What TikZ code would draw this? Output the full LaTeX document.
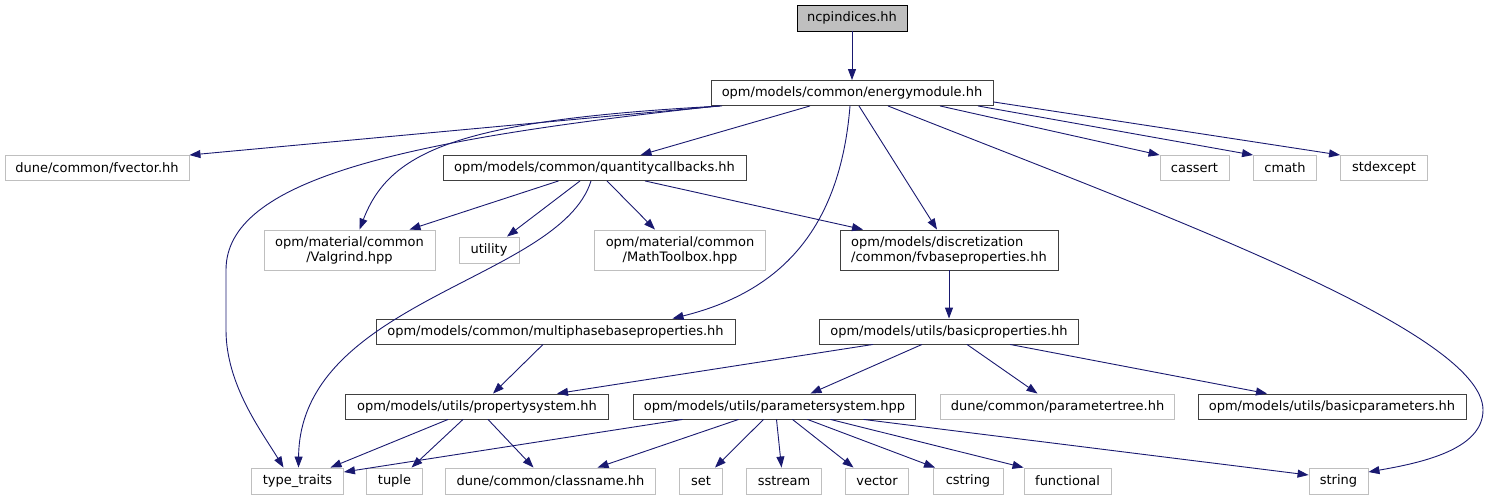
\documentclass[tikz,border=0pt]{standalone}
\usepackage{fontspec}
\setmainfont{DejaVu Sans}
\usetikzlibrary{arrows.meta}
\definecolor{edgec}{HTML}{191970}
\definecolor{extc}{HTML}{BFBFBF}
\definecolor{docc}{HTML}{404040}
\begin{document}
\begin{tikzpicture}[x=1pt,y=-1pt,
  box/.style={draw=docc, line width=0.9pt, fill=white, inner sep=0pt, minimum height=25pt,
    font=\fontsize{13}{15}\selectfont, align=center},
  ext/.style={box, draw=extc},
  root/.style={box, fill=extc, draw=black},
  tall/.style={minimum height=40pt},
  e/.style={draw=edgec, line width=0.9pt, -{Triangle[length=11pt,width=8pt]}}]
\useasboundingbox (0,0) rectangle (1490,500);
% row 0-1
\node[root, minimum width=110pt, minimum height=26pt] (ncp) at (852,18) {ncpindices.hh};
\node[box, minimum width=282pt] (em) at (852,93) {opm/models/common/energymodule.hh};
% row 2
\node[ext, minimum width=184pt] (fv) at (97,168) {dune/common/fvector.hh};
\node[box, minimum width=303pt] (qc) at (594.5,168) {opm/models/common/quantitycallbacks.hh};
\node[ext, minimum width=69pt] (cas) at (1194.5,168) {cassert};
\node[ext, minimum width=63pt] (cm) at (1285,168) {cmath};
\node[ext, minimum width=87pt] (sx) at (1384,168) {stdexcept};
% row 3
\node[ext, tall, minimum width=171pt] (vg) at (349.5,250) {opm/material/common\\/Valgrind.hpp};
\node[ext, minimum width=60pt, minimum height=26pt] (ut) at (489,250) {utility};
\node[ext, tall, minimum width=171pt] (mt) at (680,250) {opm/material/common\\/MathToolbox.hpp};
\node[box, tall, minimum width=218pt, align=left] (fb) at (949,250) {opm/models/discretization\\/common/fvbaseproperties.hh};
% row 4
\node[box, minimum width=359pt] (mp) at (555.5,331.5) {opm/models/common/multiphasebaseproperties.hh};
\node[box, minimum width=259pt] (bp) at (949,331.5) {opm/models/utils/basicproperties.hh};
% row 5
\node[box, minimum width=263pt] (ps) at (477,406.5) {opm/models/utils/propertysystem.hh};
\node[box, minimum width=282pt] (pm) at (774.5,406.5) {opm/models/utils/parametersystem.hpp};
\node[ext, minimum width=234pt] (pt) at (1057.5,406.5) {dune/common/parametertree.hh};
\node[box, minimum width=268pt] (bpa) at (1332,406.5) {opm/models/utils/basicparameters.hh};
% row 6
\node[ext, minimum width=92pt, minimum height=26pt] (tt) at (297.5,481) {type\_traits};
\node[ext, minimum width=56pt, minimum height=26pt] (tu) at (394.5,481) {tuple};
\node[ext, minimum width=210pt, minimum height=26pt] (cn) at (550.5,481) {dune/common/classname.hh};
\node[ext, minimum width=43pt, minimum height=26pt] (st) at (701,481) {set};
\node[ext, minimum width=75pt, minimum height=26pt] (ss) at (784,481) {sstream};
\node[ext, minimum width=63pt, minimum height=26pt] (ve) at (877,481) {vector};
\node[ext, minimum width=70pt, minimum height=26pt] (cs) at (968,481) {cstring};
\node[ext, minimum width=87pt, minimum height=26pt] (fu) at (1067.5,481) {functional};
\node[ext, minimum width=59pt, minimum height=26pt] (str) at (1338.5,481) {string};
% edges from ncp / em
\draw[e] (ncp) -- (em);
\draw[e] ([xshift=-132pt]em.south) -- (fv.north east);
\draw[e] ([xshift=-134pt]em.south) .. controls (400,140) and (226,180) .. (226,270) -- (226,330) .. controls (226,385) and (262,432) .. ([xshift=-14pt]tt.north);
\draw[e] ([xshift=-130pt]em.south) .. controls (460,120) and (390,150) .. ([xshift=10pt]vg.north);
\draw[e] ([xshift=-42pt]em.south) -- ([xshift=46pt]qc.north);
\draw[e] ([xshift=-2pt]em.south) .. controls (840,230) and (780,292) .. ([xshift=117pt]mp.north);
\draw[e] ([xshift=7pt]em.south) -- ([xshift=-12pt]fb.north);
\draw[e] ([xshift=36pt]em.south) .. controls (1150,210) and (1483,330) .. (1483,410) .. controls (1483,450) and (1420,463) .. ([yshift=9pt]str.east);
\draw[e] ([xshift=88pt]em.south) -- (cas.north west);
\draw[e] ([xshift=126pt]em.south) -- (cm.north west);
\draw[e] ([yshift=4pt]em.south east) -- (sx.north west);
% edges from qc
\draw[e] ([xshift=-36pt]qc.south) -- ([xshift=60pt]vg.north);
\draw[e] ([xshift=-14.5pt]qc.south) -- ([xshift=18pt]ut.north);
\draw[e] ([xshift=-3.5pt]qc.south) .. controls (560,280) and (300,300) .. ([xshift=1pt]tt.north);
\draw[e] ([xshift=12.5pt]qc.south) -- ([xshift=-25pt]mt.north);
\draw[e] ([xshift=50.5pt]qc.south) -- ([xshift=-86pt]fb.north);
% fb, mp, bp
\draw[e] (fb) -- (bp);
\draw[e] ([xshift=-12.5pt]mp.south) -- ([xshift=16pt]ps.north);
\draw[e] ([xshift=-76pt]bp.south) -- ([xshift=80pt]ps.north);
\draw[e] ([xshift=-27pt]bp.south) -- ([xshift=36pt]pm.north);
\draw[e] ([xshift=18pt]bp.south) -- ([xshift=-20pt]pt.north);
\draw[e] ([xshift=61pt]bp.south) -- ([xshift=-65pt]bpa.north);
% ps
\draw[e] ([xshift=-29pt]ps.south) -- ([xshift=33pt]tt.north);
\draw[e] ([xshift=-14pt]ps.south) -- ([xshift=17pt]tu.north);
\draw[e] ([xshift=11pt]ps.south) -- ([xshift=-17pt]cn.north);
% pm
\draw[e] ([xshift=-92pt]pm.south) -- ([yshift=9pt]tt.east);
\draw[e] ([xshift=-36pt]pm.south) -- ([xshift=47pt]cn.north);
\draw[e] ([xshift=-11pt]pm.south) -- ([xshift=14pt]st.north);
\draw[e] ([xshift=2pt]pm.south) -- ([xshift=-2.5pt]ss.north);
\draw[e] ([xshift=18pt]pm.south) -- ([xshift=-23.5pt]ve.north);
\draw[e] ([xshift=33pt]pm.south) -- ([xshift=-33pt]cs.north);
\draw[e] ([xshift=56pt]pm.south) -- (fu.north west);
\draw[e] ([xshift=89pt]pm.south) -- ([yshift=6pt]str.west);
\end{tikzpicture}
\end{document}
